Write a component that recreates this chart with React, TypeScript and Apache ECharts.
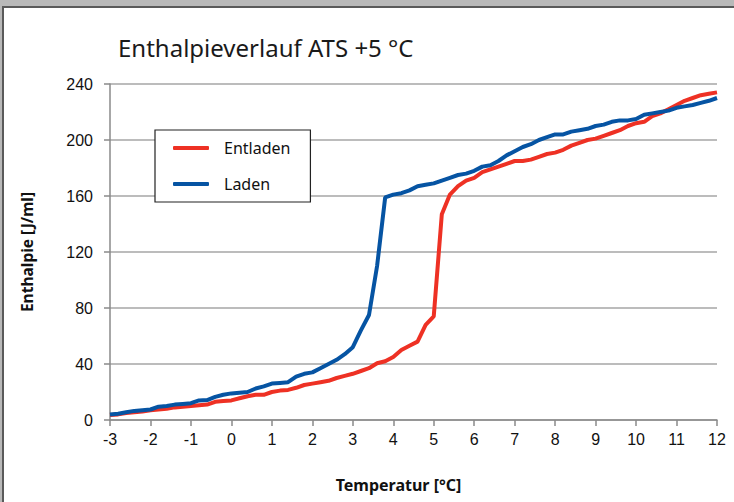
import React, { useEffect, useRef } from "react";
import * as echarts from "echarts";

const temps = [
  -3, -2.8, -2.6, -2.4, -2.2, -2, -1.8, -1.6, -1.4, -1.2, -1, -0.8, -0.6, -0.4, -0.2,
  0, 0.2, 0.4, 0.6, 0.8, 1, 1.2, 1.4, 1.6, 1.8, 2, 2.2, 2.4, 2.6, 2.8,
  3, 3.2, 3.4, 3.6, 3.8, 4, 4.2, 4.4, 4.6, 4.8, 5, 5.2, 5.4, 5.6, 5.8,
  6, 6.2, 6.4, 6.6, 6.8, 7, 7.2, 7.4, 7.6, 7.8, 8, 8.2, 8.4, 8.6, 8.8,
  9, 9.2, 9.4, 9.6, 9.8, 10, 10.2, 10.4, 10.6, 10.8, 11, 11.2, 11.4, 11.6, 11.8,
  12,
];

const entladen = [
  3.5, 4, 5, 5.5, 6, 7, 7.5, 8, 9, 9.5, 10, 10.5, 11, 13, 13.5,
  14, 15.5, 17, 18, 18, 20, 21, 21.5, 23, 25, 26, 27, 28, 30, 31.5,
  33, 35, 37, 40.5, 42, 45, 50, 53, 56, 68, 74, 147, 161, 167, 171,
  173, 177, 179, 181, 183, 185, 185, 186, 188, 190, 191, 193, 196, 198, 200,
  201, 203, 205, 207, 210, 212, 213, 217, 219, 222, 225, 228, 230, 232, 233,
  234,
];

const laden = [
  4, 4.5, 5.5, 6.5, 7, 7.5, 9.5, 10, 11, 11.5, 12, 14, 14.2, 16.5, 18,
  19, 19.5, 20, 22.5, 24, 26, 26.5, 27, 31, 33, 34, 37, 40, 43, 47,
  52, 64, 75, 110, 159, 161, 162, 164, 167, 168, 169, 171, 173, 175, 176,
  178, 181, 182, 185, 189, 192, 195, 197, 200, 202, 204, 204, 206, 207, 208,
  210, 211, 213, 214, 214, 215, 218, 219, 220, 221, 223, 224, 225, 226.5, 228,
  230,
];

const seriesNames = ["Entladen", "Laden"];
const titleText = "Enthalpieverlauf ATS +5 °C";
const xName = "Temperatur [°C]";
const yName = "Enthalpie [J/ml]";

export default function App() {
  const ref = useRef<HTMLDivElement>(null);

  useEffect(() => {
    if (!ref.current) return;
    const chart = echarts.init(ref.current, undefined, { renderer: "svg" });
    const axisFont = "'Liberation Sans', Arial, sans-serif";
    chart.setOption({
      animation: false,
      title: {
        text: titleText,
        left: 113,
        top: 30,
        textStyle: {
          fontFamily: "'Noto Sans', sans-serif",
          fontSize: 24,
          fontWeight: "normal",
          color: "#1a1a1a",
        },
      },
      legend: {
        data: seriesNames,
        orient: "vertical",
        left: 155,
        top: 130,
        padding: [8, 20, 8, 18],
        itemGap: 16,
        itemWidth: 36,
        itemHeight: 4,
        icon: "roundRect",
        borderColor: "#222",
        borderWidth: 1.2,
        backgroundColor: "#fff",
        textStyle: {
          fontFamily: "'Noto Sans', sans-serif",
          fontSize: 16,
          color: "#111",
          lineHeight: 20,
          padding: [0, 0, 0, 10],
        },
      },
      grid: { left: 110, right: 17, top: 84, bottom: 82, containLabel: false },
      xAxis: {
        type: "value",
        min: -3,
        max: 12,
        interval: 1,
        name: xName,
        nameLocation: "middle",
        nameGap: 57,
        nameTextStyle: {
          fontFamily: "'Noto Sans', sans-serif",
          fontWeight: "bold",
          fontSize: 16,
          color: "#111",
          padding: [0, 30, 0, 0],
        },
        axisLine: { show: true, onZero: false, lineStyle: { color: "#8a8a8a", width: 1.5 } },
        axisTick: { show: true, length: 6, lineStyle: { color: "#8a8a8a", width: 1.5 } },
        axisLabel: { fontFamily: axisFont, fontSize: 16, color: "#111", margin: 11 },
        splitLine: { show: false },
      },
      yAxis: {
        type: "value",
        min: 0,
        max: 240,
        interval: 40,
        name: yName,
        nameLocation: "middle",
        nameGap: 75,
        nameTextStyle: {
          fontFamily: "'Noto Sans', sans-serif",
          fontWeight: "bold",
          fontSize: 15.5,
          color: "#111",
        },
        axisLine: { show: true, onZero: false, lineStyle: { color: "#8a8a8a", width: 1.5 } },
        axisTick: { show: true, length: 6, lineStyle: { color: "#8a8a8a", width: 1.5 } },
        axisLabel: { fontFamily: axisFont, fontSize: 16, color: "#111", margin: 17 },
        splitLine: { show: true, lineStyle: { color: "#a6a6a6", width: 1.5 } },
      },
      series: [
        {
          name: seriesNames[0],
          type: "line",
          data: temps.map((t, i) => [t, entladen[i]]),
          showSymbol: false,
          symbol: "none",
          lineStyle: { color: "#ee3124", width: 4 },
          itemStyle: { color: "#ee3124" },
        },
        {
          name: seriesNames[1],
          type: "line",
          data: temps.map((t, i) => [t, laden[i]]),
          showSymbol: false,
          symbol: "none",
          lineStyle: { color: "#0654a3", width: 4 },
          itemStyle: { color: "#0654a3" },
        },
      ],
    });
    return () => chart.dispose();
  }, []);

  return (
    <div style={{ position: "fixed", left: 0, top: 0, width: 734, height: 502, background: "#fff", overflow: "hidden" }}>
      <div style={{ position: "absolute", left: 0, top: 0, width: 734, height: 6, background: "#b9b9b9" }} />
      <div style={{ position: "absolute", left: 0, top: 0, width: 2, height: 502, background: "#b9b9b9" }} />
      <div style={{ position: "absolute", left: 2, top: 6, width: 732, height: 2, background: "#5a5a5a" }} />
      <div style={{ position: "absolute", left: 2, top: 6, width: 2, height: 496, background: "#5a5a5a" }} />
      <div ref={ref} style={{ position: "absolute", left: 0, top: 0, width: 734, height: 502 }} />
    </div>
  );
}
